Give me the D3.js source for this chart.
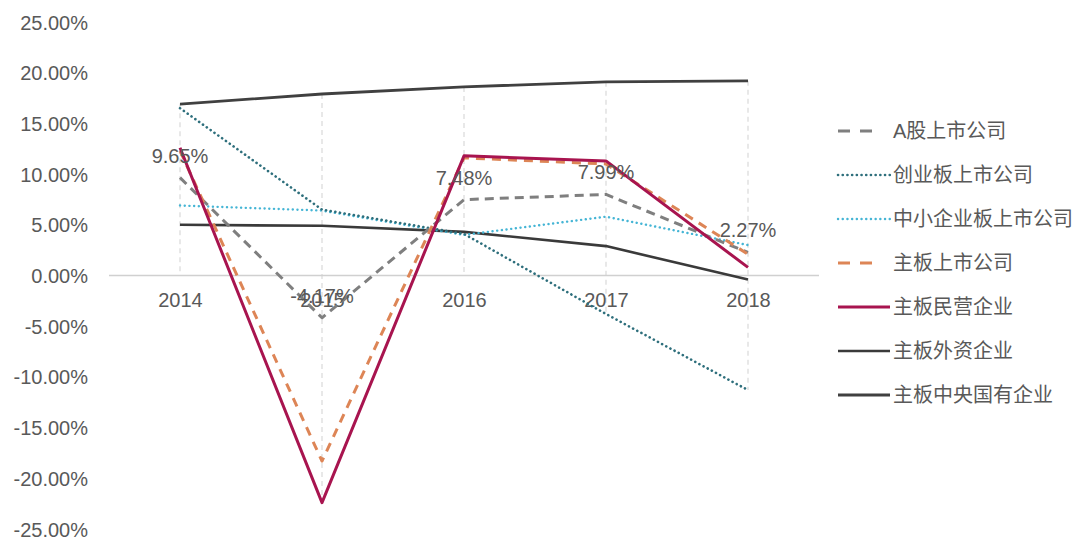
<!DOCTYPE html>
<html>
<head>
<meta charset="utf-8">
<script src="https://cdn.jsdelivr.net/npm/d3@7"></script>
<style>
  html, body { margin: 0; padding: 0; background: #fff; }
  svg { display: block; }
  text { font-family: "Liberation Sans", Arial, "Noto Sans CJK SC", sans-serif; }
  .cjk { font-family: "Liberation Sans", "Noto Sans CJK SC", sans-serif; }
</style>
</head>
<body>
<svg id="chart" width="1084" height="539"></svg>
<script>
const years = ["2014", "2015", "2016", "2017", "2018"];
const yTicks = [25, 20, 15, 10, 5, 0, -5, -10, -15, -20, -25];

const seriesNames = ["A股上市公司", "创业板上市公司", "中小企业板上市公司", "主板上市公司", "主板民营企业", "主板外资企业", "主板中央国有企业"];
const aShare      = [9.65, -4.17, 7.48, 7.99, 2.27];
const chiNext     = [16.5, 6.5, 4.1, -3.8, -11.3];
const sme         = [6.9, 6.4, 4.0, 5.8, 3.0];
const mainBoard   = [12.3, -18.3, 11.6, 11.0, 2.1];
const mainPrivate = [12.6, -22.4, 11.8, 11.3, 0.8];
const mainForeign = [5.0, 4.9, 4.3, 2.9, -0.4];
const mainCentral = [16.9, 17.9, 18.6, 19.1, 19.2];
const aShareLabels = ["9.65%", "-4.17%", "7.48%", "7.99%", "2.27%"];

const styles = [
  { color: "#7f7f7f", width: 3, dash: "9,6", cap: "butt" },
  { color: "#2e6f7c", width: 2.6, dash: "0.1,4.6", cap: "round" },
  { color: "#45b5d5", width: 2.4, dash: "0.1,4.6", cap: "round" },
  { color: "#dd8556", width: 3, dash: "9,7", cap: "butt" },
  { color: "#a8144f", width: 3, dash: null, cap: "butt" },
  { color: "#3a3a3a", width: 2.6, dash: null, cap: "butt" },
  { color: "#404040", width: 2.8, dash: null, cap: "butt" }
];
const allValues = [aShare, chiNext, sme, mainBoard, mainPrivate, mainForeign, mainCentral];

const svg = d3.select("#chart");
const x = d3.scalePoint().domain(years).range([180, 748]);
const y = d3.scaleLinear().domain([-25, 25]).range([529, 22]);

// y-axis labels (no axis line)
const yAxis = d3.axisLeft(y).tickValues(yTicks).tickSize(0).tickPadding(0)
  .tickFormat(d => d.toFixed(2) + "%");
const gy = svg.append("g").attr("transform", "translate(88,0)").call(yAxis);
gy.select(".domain").remove();
gy.selectAll("text").attr("fill", "#595959").style("font-size", "20px")
  .attr("dy", "0.35em");

// drop lines: from each point to the zero line
years.forEach((yr, i) => {
  const vals = allValues.map(s => s[i]);
  const top = Math.max(0, d3.max(vals));
  const bot = Math.min(0, d3.min(vals));
  svg.append("line")
    .attr("x1", x(yr)).attr("x2", x(yr))
    .attr("y1", y(top)).attr("y2", y(bot))
    .attr("stroke", "#d9d9d9").attr("stroke-width", 1.2)
    .attr("stroke-dasharray", "5,4");
});

// zero axis line
const xAxis = d3.axisBottom(x).tickSize(0).tickPadding(0);
const gx = svg.append("g").attr("transform", `translate(0,${y(0)})`).call(xAxis);
gx.select(".domain").remove();
gx.append("line").attr("x1", 109).attr("x2", 819).attr("y1", 0).attr("y2", 0)
  .attr("stroke", "#d0d0d0").attr("stroke-width", 1.3);
gx.selectAll(".tick text").attr("fill", "#595959").style("font-size", "20px")
  .attr("y", 17);

// series lines (draw back to front)
const order = [5, 6, 2, 1, 0, 3, 4];
const line = d3.line().x((d, i) => x(years[i])).y(d => y(d));
order.forEach(k => {
  const st = styles[k];
  const p = svg.append("path").datum(allValues[k])
    .attr("d", line)
    .attr("fill", "none")
    .attr("stroke", st.color)
    .attr("stroke-width", st.width)
    .attr("stroke-linecap", st.cap)
    .attr("stroke-linejoin", "round");
  if (st.dash) p.attr("stroke-dasharray", st.dash);
});

// data labels for A股
svg.append("g").selectAll("text").data(aShare).join("text")
  .attr("x", (d, i) => x(years[i]))
  .attr("y", d => y(d) - 22)
  .attr("dy", "0.35em")
  .attr("text-anchor", "middle")
  .attr("fill", "#595959")
  .style("font-size", "20px")
  .text((d, i) => aShareLabels[i]);

// legend
const lg = svg.append("g");
const legendTop = 131, legendStep = 44;
seriesNames.forEach((name, k) => {
  const st = styles[k];
  const yy = legendTop + k * legendStep;
  const isDash = st.dash && st.cap === "butt";
  const ln = lg.append("line")
    .attr("x1", 838).attr("x2", isDash ? 878 : 890)
    .attr("y1", yy).attr("y2", yy)
    .attr("stroke", st.color).attr("stroke-width", st.width)
    .attr("stroke-linecap", st.cap);
  if (st.dash) ln.attr("stroke-dasharray", isDash ? "12,10" : st.dash);
  lg.append("text").attr("class", "cjk")
    .attr("x", 893).attr("y", yy).attr("dy", "0.35em")
    .attr("fill", "#595959").style("font-size", "20px")
    .text(name);
});
</script>
</body>
</html>
